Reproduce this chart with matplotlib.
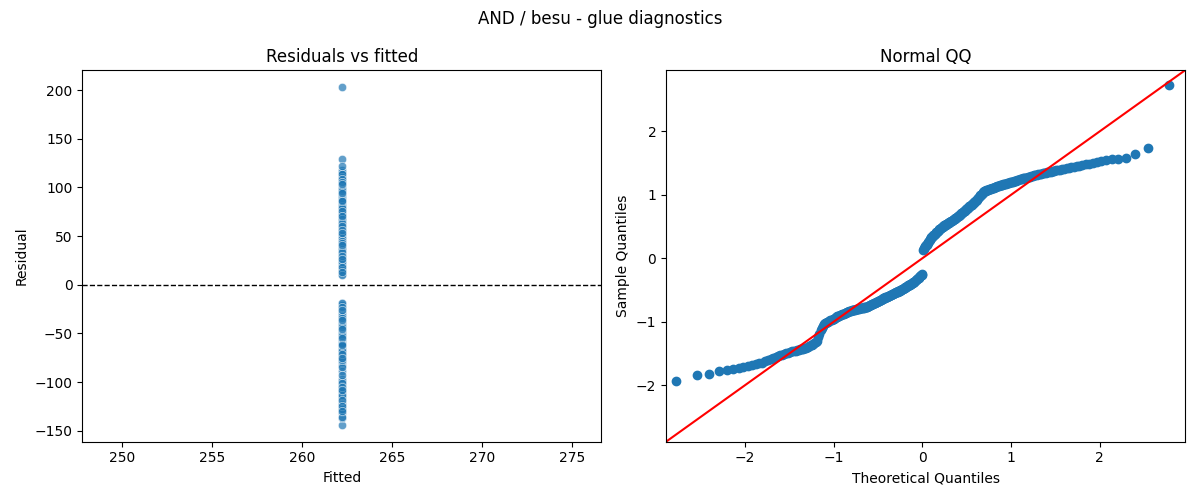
# Glue diagnostics: residuals vs fitted and a normal QQ plot

from statistics import NormalDist
import numpy as np
import matplotlib
matplotlib.use('Agg')
import matplotlib.pyplot as plt

title = 'AND / besu - glue diagnostics'

# intercept-only model, so every fitted value is the same
fitted_value = 262.2

# residuals (sorted)
resid_neg = [-144, -137, -136, -132, -131, -129.7, -128.4, -127.4, -126.3, -125.2, -124.2, -123.2, -122.2,
             -120.9, -119.6, -118.2, -116.9, -115.5,
             -114.7, -113.9, -113.1, -112.3, -111.5, -110.7, -109.9, -109.1,
             -108.5, -108.1, -107.7, -107.2, -106.8, -106.4, -105.9, -105.5,
             -104.9, -104.0, -103.1, -102.1, -101.2, -100.3, -99.4, -98.4,
             -96.9, -92.7, -88.5, -84.6, -82.0, -79.4,
             -76.9, -76.2, -75.5, -74.8, -74.1, -73.4, -72.7, -72.0, -71.4, -70.7, -70.0, -69.3, -68.6,
             -67.9, -67.5, -67.1, -66.6, -66.2, -65.7, -65.2, -64.8, -64.3, -63.9, -63.4, -63.0, -62.5,
             -62.1, -61.6,
             -61.3, -61.1, -60.8, -60.6, -60.4, -60.2, -59.9, -59.7, -59.5, -59.3, -59.0, -58.8, -58.6,
             -58.4, -58.1, -57.9, -57.7, -57.5, -57.2, -57.0, -56.8,
             -56.6, -56.1, -55.7, -55.3, -54.9, -54.5, -54.1, -53.7, -53.2, -52.8, -52.4, -52.0, -51.6,
             -51.2, -50.8, -50.3, -49.9, -49.5, -49.1, -48.7, -48.3, -47.9, -47.4, -47.0, -46.6,
             -46.3, -45.9, -45.5, -45.2, -44.8, -44.4, -44.1, -43.7, -43.3, -43.0, -42.6, -42.2, -41.9,
             -41.5, -41.1, -40.8, -40.4, -40.0, -39.7, -39.3, -38.9, -38.6, -38.2, -37.8, -37.5, -37.1,
             -36.7, -36.2, -35.8, -35.4, -34.9, -34.5, -34.0, -33.6, -33.1, -32.7, -32.2, -31.8, -31.4,
             -30.9, -30.5, -30.0, -29.6, -29.1, -28.7, -28.2, -27.8,
             -27.3, -26.7, -26.0, -25.3, -24.6, -23.9, -23.3, -22.6, -21.9, -21.2, -20.6, -19.9, -19.2,
             -18.5]

resid_pos = [9.6, 10.7, 11.8, 12.9, 14.0, 15.1, 16.1, 17.2, 18.3, 19.4, 20.5, 21.6, 22.7, 23.7,
             24.7, 25.4, 26.1, 26.8, 27.5, 28.2, 29.0, 29.7, 30.4, 31.1, 31.8, 32.5, 33.2, 33.9, 34.7,
             35.4, 36.1,
             36.6, 37.1, 37.6, 38.1, 38.5, 39.0, 39.5, 40.0, 40.5, 41.0, 41.4, 41.9, 42.4, 42.9, 43.4,
             43.9, 44.3, 44.8, 45.3, 45.8, 46.3,
             46.7, 47.4, 48.0, 48.7, 49.3, 50.0, 50.6, 51.3, 51.9, 52.6, 53.3, 53.9, 54.6, 55.2, 55.9,
             56.6, 57.3, 58.0, 58.7, 59.4, 60.1, 60.9, 61.6, 62.3, 63.0, 63.7, 64.4, 65.2, 65.9, 66.6,
             67.6, 68.6, 69.7, 70.7, 71.7, 72.7, 73.7, 74.7, 75.8, 76.8, 77.8,
             78.4, 78.8, 79.2, 79.5, 79.9, 80.3, 80.7, 81.1, 81.4, 81.8, 82.2, 82.6, 83.0, 83.4,
             83.7, 84.1, 84.4, 84.7, 85.0, 85.4, 85.7, 86.0, 86.3, 86.7, 87.0, 87.3, 87.6, 87.9, 88.3,
             88.6, 88.9, 89.2,
             89.6, 90.0, 90.4, 90.8, 91.2, 91.6, 92.0, 92.4, 92.8, 93.2, 93.6, 94.0, 94.3, 94.7, 95.1,
             95.5, 95.9, 96.3, 96.7, 97.1, 97.5, 97.9, 98.3, 98.7, 99.1, 99.5, 99.9,
             100.3, 100.8, 101.2, 101.7, 102.1, 102.6, 103.0, 103.4, 103.9, 104.3, 104.8,
             105.3, 105.9, 106.5, 107.2, 107.8, 108.4, 109.1,
             110.1, 111.1, 112.2, 113.3,
             114.3, 115.2, 116.0, 116.8, 117.6, 122.1, 128.8, 203]

resid = np.array(resid_neg + resid_pos)
n = len(resid)
fitted = np.full(n, fitted_value)

# the rows were not in sorted order in the original frame; use a fixed stride order
order = (np.arange(n) * 97) % n

# standardized residuals against normal plotting positions i/(n+1)
sample_q = np.sort(resid / resid.std())
theo_q = np.array([NormalDist().inv_cdf(i / (n + 1)) for i in range(1, n + 1)])

fig, (ax1, ax2) = plt.subplots(1, 2, figsize=(12, 5), dpi=100)

# residuals vs fitted
ax1.scatter(fitted[order], resid[order], s=36, color='C0', alpha=0.7,
            edgecolor='w', linewidth=0.5)
ax1.axhline(0, color='k', linestyle='--', linewidth=1)
ax1.set_xlabel('Fitted')
ax1.set_ylabel('Residual')
ax1.set_title('Residuals vs fitted')

# normal QQ with a 45 degree reference line
ax2.plot(theo_q, sample_q, marker='o', linestyle='none',
         markerfacecolor='C0', markeredgecolor='C0')
ax2.set_xmargin(0.02)
xlo, xhi = ax2.get_xlim()
ylo, yhi = ax2.get_ylim()
lo, hi = min(xlo, ylo), max(xhi, yhi)
ax2.plot([lo, hi], [lo, hi], 'r-')
ax2.set_xlim(lo, hi)
ax2.set_ylim(lo, hi)
ax2.set_xlabel('Theoretical Quantiles')
ax2.set_ylabel('Sample Quantiles')
ax2.set_title('Normal QQ')

fig.suptitle(title)
fig.tight_layout()
fig.savefig('out.png')
